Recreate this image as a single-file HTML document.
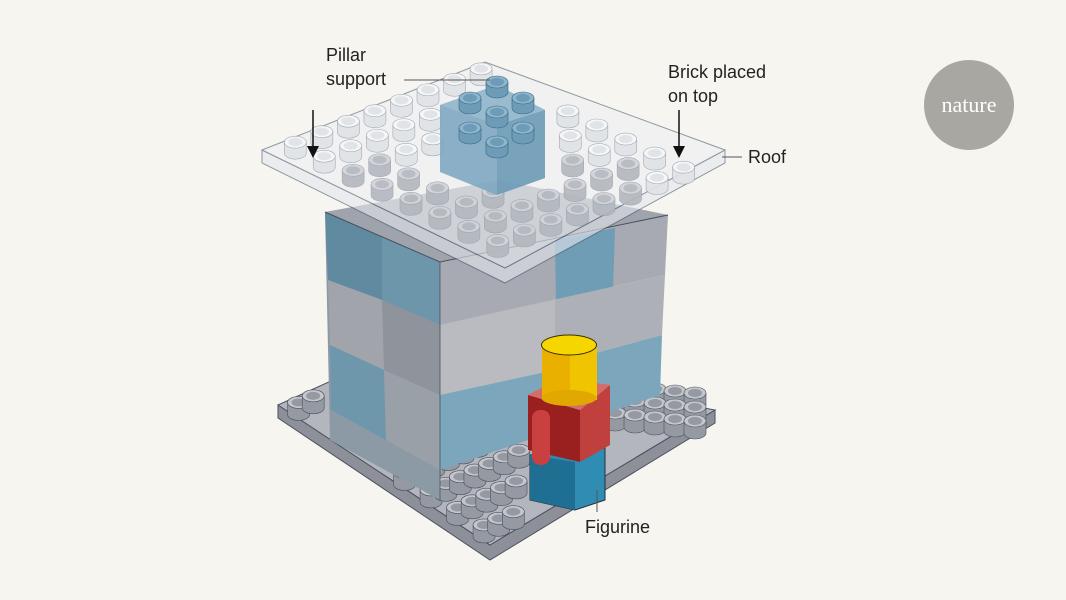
<!DOCTYPE html>
<html><head><meta charset="utf-8"><style>
html,body{margin:0;padding:0;background:#f6f5ef;}
svg{display:block}
text{font-family:"Liberation Sans",sans-serif;font-size:18px;fill:#222}
</style></head><body>
<svg id="s" width="1066" height="600" viewBox="0 0 1066 600" xmlns="http://www.w3.org/2000/svg">
<rect width="1066" height="600" fill="#f6f5ef"/>
<polygon points="278,405 490,545 715,410 715,423 490,560 278,418" fill="#8d9099" stroke="#4a5060" stroke-width="1"/>
<polygon points="278,405 395,352 715,410 490,545" fill="#b4b6bd" stroke="#4a5060" stroke-width="1"/>
<g id="bstuds"></g>
<polygon points="325,212 440,262 440,500 330,440" fill="#8c9aa6"/>
<polygon points="325,212 382,237 382,300 328,280" fill="#5f8aa0"/>
<polygon points="382,237 440,262 440,325 382,300" fill="#6d96ab"/>
<polygon points="328,280 382,300 384,370 330,345" fill="#a2a4ab"/>
<polygon points="382,300 440,325 440,395 384,370" fill="#8f939c"/>
<polygon points="330,345 384,370 386,440 331,410" fill="#6e97ac"/>
<polygon points="384,370 440,395 440,470 386,440" fill="#9aa0a8"/>
<polygon points="440,262 668,215 665,275 440,325" fill="#a7aab2"/>
<polygon points="555,240 615,228 613,290 556,305" fill="#6f9db5"/>
<polygon points="440,325 665,275 662,335 440,395" fill="#aeb0b7"/>
<polygon points="440,395 662,335 660,395 440,470" fill="#7ba6bc"/>
<polygon points="440,325 555,300 555,370 440,395" fill="#b9bbc1"/>
<polygon points="325,212 440,262 668,215 500,180" fill="#9fa3ab"/>
<polyline points="325,212 440,262 668,215" fill="none" stroke="#4a5060" stroke-width="1"/>
<line x1="440" y1="262" x2="440" y2="500" stroke="#4a5060" stroke-width="0.8"/>
<polygon points="530,455 605,448 605,500 575,510 530,500" fill="#2f8db3" stroke="#1f3040" stroke-width="1"/>
<polygon points="530,455 575,462 575,510 530,500" fill="#1f6f92"/>
<polygon points="528,395 580,410 580,462 528,450" fill="#9a2020"/>
<polygon points="580,410 610,385 610,445 580,462" fill="#c0403e"/>
<polygon points="528,395 560,378 610,385 580,410" fill="#d56b6a"/>
<rect x="532" y="410" width="18" height="55" rx="8" fill="#c84040"/>
<rect x="542" y="345" width="55" height="55" fill="#eab000"/>
<rect x="570" y="345" width="27" height="55" fill="#f0c400"/>
<ellipse cx="569" cy="398" rx="27.5" ry="8" fill="#e0a800"/>
<ellipse cx="569" cy="345" rx="27.5" ry="10" fill="#f5d600" stroke="#3a3000" stroke-width="1"/>
<g opacity="0.6">
<polygon points="262,150 505,268 725,150 725,163 505,283 262,163" fill="#e4e7ec" stroke="#4a5a70" stroke-width="1"/>
<polygon points="262,150 485,62 725,150 505,268" fill="#eef0f3" stroke="#4a5a70" stroke-width="1"/>
</g>
<g id="rstuds"></g>
<g opacity="0.9">
<polygon points="440,105 497,85 545,110 545,178 497,195 440,172" fill="#7fa8c2"/>
<polygon points="497,120 545,110 545,178 497,195" fill="#6d9ab6"/>
<polygon points="440,105 497,85 545,110 497,125" fill="#8fb6cc"/>
</g>
<g id="pstuds"></g>
<text x="326" y="61">Pillar</text><text x="326" y="85">support</text>
<line x1="404" y1="80" x2="490" y2="80" stroke="#555" stroke-width="1"/>
<text x="668" y="78">Brick placed</text><text x="668" y="102">on top</text>
<line x1="313" y1="110" x2="313" y2="150" stroke="#111" stroke-width="1.5"/>
<polygon points="307,146 319,146 313,158" fill="#111"/>
<line x1="679" y1="110" x2="679" y2="150" stroke="#111" stroke-width="1.5"/>
<polygon points="673,146 685,146 679,158" fill="#111"/>
<line x1="722" y1="157" x2="742" y2="157" stroke="#555" stroke-width="1"/>
<text x="748" y="163">Roof</text>
<line x1="597" y1="490" x2="597" y2="512" stroke="#555" stroke-width="1"/>
<text x="585" y="533">Figurine</text>
<circle cx="969" cy="105" r="45" fill="#a9a7a1"/>
<text x="969" y="112" text-anchor="middle" style="font-family:'Liberation Serif',serif;font-size:22px;fill:#fff">nature</text>
</svg>
<script>
function stud(g,x,y,top,side,edge,h,op){
 var ns="http://www.w3.org/2000/svg";
 var gg=document.createElementNS(ns,"g");if(op)gg.setAttribute("opacity",op);g.appendChild(gg);
 var r=document.createElementNS(ns,"path");
 r.setAttribute("d","M"+(x-11)+","+y+" L"+(x-11)+","+(y+h)+" A11,6 0 0 0 "+(x+11)+","+(y+h)+" L"+(x+11)+","+y+" Z");
 r.setAttribute("fill",side);r.setAttribute("stroke",edge);r.setAttribute("stroke-width","0.6");gg.appendChild(r);
 var e=document.createElementNS(ns,"ellipse");e.setAttribute("cx",x);e.setAttribute("cy",y);e.setAttribute("rx",11);e.setAttribute("ry",6);
 e.setAttribute("fill",top);e.setAttribute("stroke",edge);e.setAttribute("stroke-width","0.6");gg.appendChild(e);
 var i=document.createElementNS(ns,"ellipse");i.setAttribute("cx",x);i.setAttribute("cy",y);i.setAttribute("rx",7);i.setAttribute("ry",4);
 i.setAttribute("fill",side);gg.appendChild(i);
}
var rg=document.getElementById("rstuds");
for(var v=7;v>=0;v--)for(var u=0;u<8;u++){
 var a=(u+0.6)/8.4,b=(v+0.6)/8.4;
 var x=262+a*243+b*223,y=150+a*118-b*88-10;
 if(x>435&&x<550&&y<185&&y>80)continue;
 var dark=(x>330&&x<640&&y>150);
 stud(rg,x,y,dark?"#d0d3d8":"#f6f7f8",dark?"#b3b7be":"#e0e3e7","#9aa2b0",11,0.9);
}
var pg=document.getElementById("pstuds");
[[497,82],[470,98],[523,98],[497,112],[470,128],[523,128],[497,142]].forEach(function(p){stud(pg,p[0],p[1],"#8db5cc","#6e9bb7","#3d6880",10);});
var bg=document.getElementById("bstuds");
for(var u=0;u<8;u++)for(var v=0;v<8;v++){
 var a=(u+0.5)/8,b=(v+0.5)/8;
 var x=278+a*212+b*117, y=405+a*140-b*53-8;
 var inTower=(x>325&&x<665&&y<440-(x-440)*0.3&&y>200);
 var onFig=(x>525&&x<612&&y<512);
 if(inTower&&!(y>(x<440?440+(x-330)*0.55:500-(x-440)*0.47)-10))continue;
 if(onFig)continue;
 stud(bg,x,y,"#c4c6cc","#959aa2","#4a5060",12);
}
for(var u=0;u<3;u++)for(var v=0;v<5;v++){
 var x=615+v*20, y=385+u*14+v*2;
 stud(bg,x,y,"#c4c6cc","#959aa2","#4a5060",12);
}
</script>
</body></html>
